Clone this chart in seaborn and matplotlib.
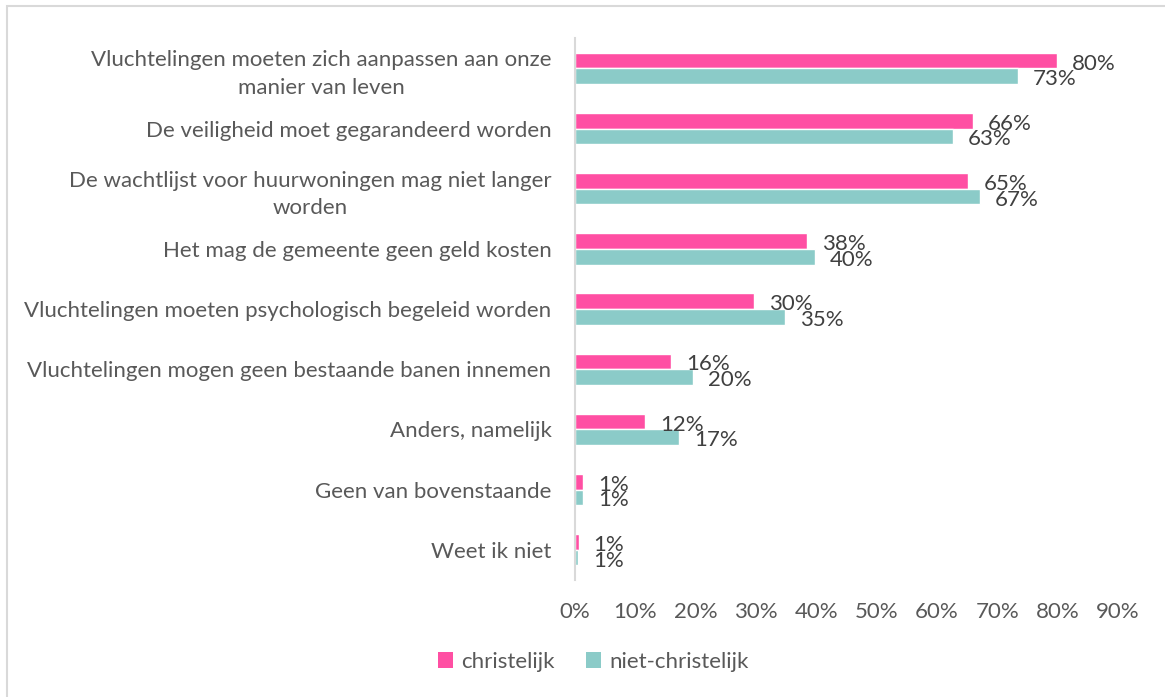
import matplotlib
matplotlib.use("Agg")
import matplotlib.pyplot as plt
import seaborn as sns
import pandas as pd
from matplotlib.patches import Rectangle, Patch

categories = [
    "Vluchtelingen moeten zich aanpassen aan onze\nmanier van leven",
    "De veiligheid moet gegarandeerd worden",
    "De wachtlijst voor huurwoningen mag niet langer\nworden",
    "Het mag de gemeente geen geld kosten",
    "Vluchtelingen moeten psychologisch begeleid worden",
    "Vluchtelingen mogen geen bestaande banen innemen",
    "Anders, namelijk",
    "Geen van bovenstaande",
    "Weet ik niet",
]
christelijk = [79.8, 65.9, 65.2, 38.5, 29.6, 15.9, 11.6, 1.4, 0.6]
niet_christelijk = [73.4, 62.6, 67.1, 39.8, 34.8, 19.6, 17.2, 1.4, 0.55]
series_names = ["christelijk", "niet-christelijk"]
xticks = [0, 10, 20, 30, 40, 50, 60, 70, 80, 90]
xtick_labels = [f"{t}%" for t in xticks]

colors = ["#FF4FA3", "#8BCBC8"]

df = pd.DataFrame({
    "cat": categories * 2,
    "val": christelijk + niet_christelijk,
    "series": [series_names[0]] * len(categories) + [series_names[1]] * len(categories),
})

sns.set_theme(style="white")
plt.rcParams["font.family"] = ["Lato", "DejaVu Sans"]

FS = 16

fig = plt.figure(figsize=(11.65, 6.97), dpi=100)
ax = fig.add_axes([0.4936, 0.168, 0.9597 - 0.4936, 0.945 - 0.168])

sns.barplot(data=df, y="cat", x="val", hue="series", order=categories,
            hue_order=series_names, palette=colors, orient="h",
            width=0.52, ax=ax, saturation=1, legend=False)

ax.set_xlim(0, 90)
ax.set_ylim(len(categories) - 0.5, -0.5)
ax.set_xticks(xticks)
ax.set_xticklabels(xtick_labels, fontsize=FS, color="#595959")
ax.tick_params(axis="x", length=0, pad=16)
ax.tick_params(axis="y", length=0, pad=17)
for lab in ax.get_yticklabels():
    lab.set_fontsize(FS)
    lab.set_color("#595959")
    lab.set_multialignment("center")
    lab.set_linespacing(1.45)
ax.set_xlabel("")
ax.set_ylabel("")
for s in ["top", "right", "bottom"]:
    ax.spines[s].set_visible(False)
ax.spines["left"].set_color("#D9D9D9")
ax.spines["left"].set_linewidth(1.5)

for cont in ax.containers:
    for bar in cont:
        w = bar.get_width()
        yc = bar.get_y() + bar.get_height() / 2
        ax.annotate(f"{round(w)}%", xy=(w, yc), xytext=(15, -3),
                    textcoords="offset pixels",
                    ha="left", va="center", fontsize=FS, color="#404040")

handles = [Patch(facecolor=c, edgecolor="none") for c in colors]
fig.legend(handles, series_names, loc="center", bbox_to_anchor=(593 / 1165, 1 - 662 / 697),
           ncol=2, frameon=False, fontsize=FS, handlelength=0.7, handleheight=0.7,
           columnspacing=1.4, handletextpad=0.35, labelcolor="#595959")

fig.patches.append(Rectangle((7 / 1165, -0.1), 1.2, 1 - 6 / 697 + 0.1,
                             transform=fig.transFigure, fill=False,
                             edgecolor="#D9D9D9", linewidth=1.5))

fig.savefig("out.png", dpi=100, facecolor="white")
